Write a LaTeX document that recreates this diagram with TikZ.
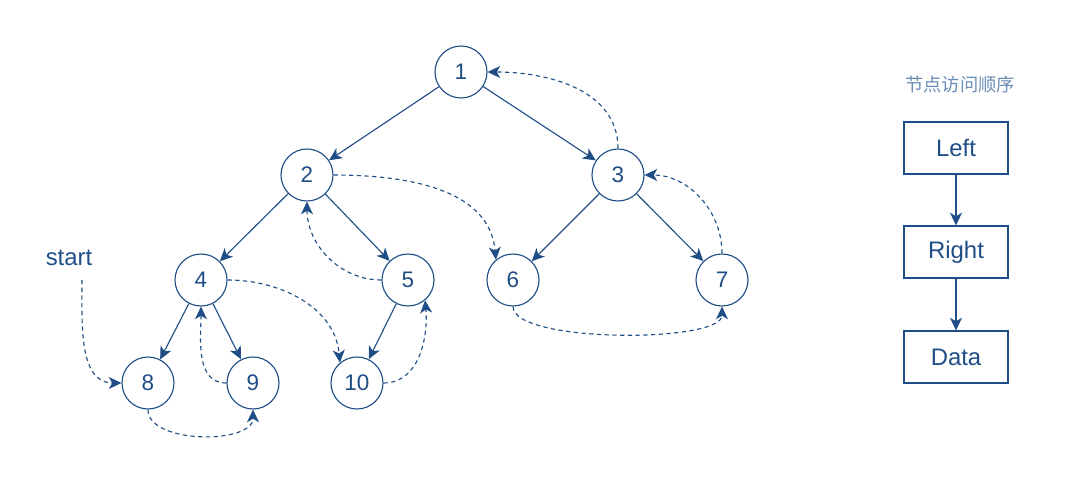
\documentclass[tikz,border=0pt]{standalone}
\usepackage{fontspec}
\setmainfont{Liberation Sans}
\newfontfamily\cjk{Noto Sans CJK SC}
\usetikzlibrary{arrows.meta}
\definecolor{arbol}{HTML}{1F4E87}
\definecolor{titulo}{HTML}{6A8DB5}

\begin{document}
\begin{tikzpicture}[x=0.025cm,y=-0.025cm,
        nodo/.style={circle,draw=arbol,line width=0.8pt,minimum size=1.3cm,
            inner sep=0pt,text=arbol,font=\fontsize{16}{19}\selectfont},
        caja/.style={draw=arbol,line width=0.8pt,minimum width=2.6cm,
            minimum height=1.3cm,text=arbol,font=\fontsize{17}{20}\selectfont},
        hijo/.style={arbol,line width=0.8pt,-{Stealth[length=9pt,width=8.5pt,inset=2.5pt]}},
        visita/.style={arbol,line width=0.8pt,dash pattern=on 3pt off 2.5pt,
            -{Stealth[length=9pt,width=8.5pt,inset=2.5pt]}}]
        \useasboundingbox (0,0) rectangle (1080,480);

        % ~~~~ Nodos ~~~~ %
        \node[nodo] (n1) at (461,72) {1};
        \node[nodo] (n2) at (307,175) {2};
        \node[nodo] (n3) at (618,175) {3};
        \node[nodo] (n4) at (201,280) {4};
        \node[nodo] (n5) at (408,280) {5};
        \node[nodo] (n6) at (513,280) {6};
        \node[nodo] (n7) at (722,280) {7};
        \node[nodo] (n8) at (148,383) {8};
        \node[nodo] (n9) at (253,383) {9};
        \node[nodo] (n10) at (357,383) {10};
        \node[text=arbol,font=\fontsize{17}{20}\selectfont] (start) at (69,258) {start};

        % ~~~~ Aristas ~~~~ %
        \draw[hijo] (n1) -- (n2);
        \draw[hijo] (n1) -- (n3);
        \draw[hijo] (n2) -- (n4);
        \draw[hijo] (n2) -- (n5);
        \draw[hijo] (n3) -- (n6);
        \draw[hijo] (n3) -- (n7);
        \draw[hijo] (n4) -- (n8);
        \draw[hijo] (n4) -- (n9);
        \draw[hijo] (n5) -- (n10);

        % ~~~~ Recorrido ~~~~ %
        \draw[visita] (82,280) to[out=-90,in=180] (n8.west);
        \draw[visita] (n8.south) to[out=-90,in=-90,looseness=0.85] (n9.south);
        \draw[visita] (n9.west) to[out=180,in=-90] (n4.south);
        \draw[visita] (n4.east) to[out=0,in=95] (n10.130);
        \draw[visita] (n10.east) to[out=0,in=-85] (n5.-50);
        \draw[visita] (n5.west) to[out=180,in=-90] (n2.south);
        \draw[visita] (n2.east) to[out=0,in=95] (n6.130);
        \draw[visita] (n6.south) to[out=-90,in=-90,looseness=0.45] (n7.south);
        \draw[visita] (n7.north) to[out=90,in=0] (n3.east);
        \draw[visita] (n3.north) to[out=90,in=0] (n1.east);

        % ~~~~ Orden ~~~~ %
        \node[text=titulo,font=\cjk\fontsize{13}{15}\selectfont] (orden) at (960,85) {节点访问顺序};
        \node[caja] (left) at (956,148) {Left};
        \node[caja] (right) at (956,252) {Right};
        \node[caja] (data) at (956,357) {Data};
        \draw[hijo] (left) -- (right);
        \draw[hijo] (right) -- (data);
    \end{tikzpicture}
\end{document}
